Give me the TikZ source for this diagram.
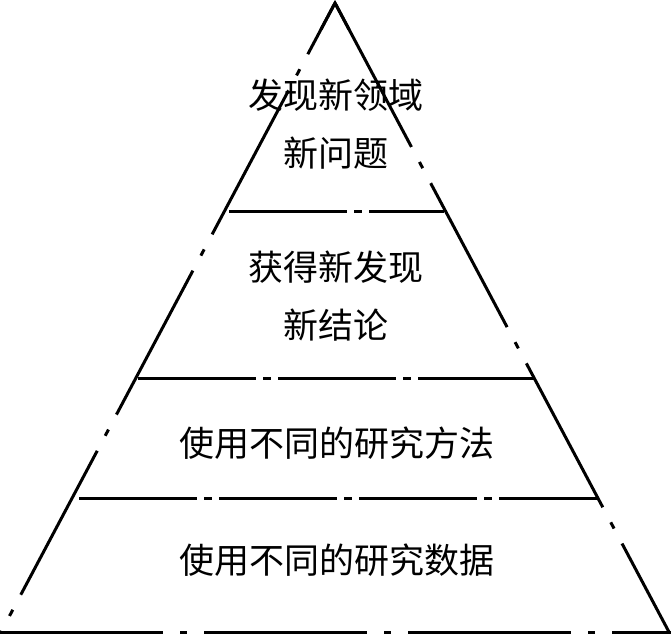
\documentclass[tikz,border=0pt]{standalone}
\usepackage{fontspec}
\newfontfamily\cjk{Noto Sans CJK SC}
\usetikzlibrary{calc}
\begin{document}
\begin{tikzpicture}[x=1pt,y=-1pt,
  outer/.style={line width=3pt, dash pattern=on 163pt off 17pt on 7pt off 17pt},
  inner/.style={line width=3pt, dash pattern=on 118pt off 7pt on 8pt off 7pt},
  lbl/.style={font=\cjk\fontsize{35}{58}\selectfont, align=center, inner sep=0pt, text=black}]
\useasboundingbox (0,0) rectangle (671,634);
% triangle
\coordinate (apex) at (335,3);
\coordinate (bl) at (1,632);
\coordinate (br) at (669,632);
\coordinate (b0) at (0,632);
\coordinate (b1) at (671,632);
\coordinate (pl) at ($(apex)!30pt!(bl)$);
\coordinate (pr) at ($(apex)!30pt!(br)$);
\draw[outer, dash phase=105pt] (apex) -- (bl);
\draw[outer] (apex) -- (br);
\draw[line width=3pt, line join=miter] (pl) -- (apex) -- (pr);
\draw[outer] (b0) -- (b1);
% inner dividers
\coordinate (l1a) at (229,211); \coordinate (l1b) at (444,211);
\coordinate (l2a) at (138,378); \coordinate (l2b) at (534,378);
\coordinate (l3a) at (79,498);  \coordinate (l3b) at (598,498);
\draw[inner] (l1a) -- (l1b);
\draw[inner] (l2a) -- (l2b);
\draw[inner] (l3a) -- (l3b);
% labels
\node[lbl] (t1) at (336,124) {发现新领域\\新问题};
\node[lbl] (t2) at (336,296.5) {获得新发现\\新结论};
\node[lbl] (t3) at (336.5,443) {使用不同的研究方法};
\node[lbl] (t4) at (336.5,560) {使用不同的研究数据};
\end{tikzpicture}
\end{document}
